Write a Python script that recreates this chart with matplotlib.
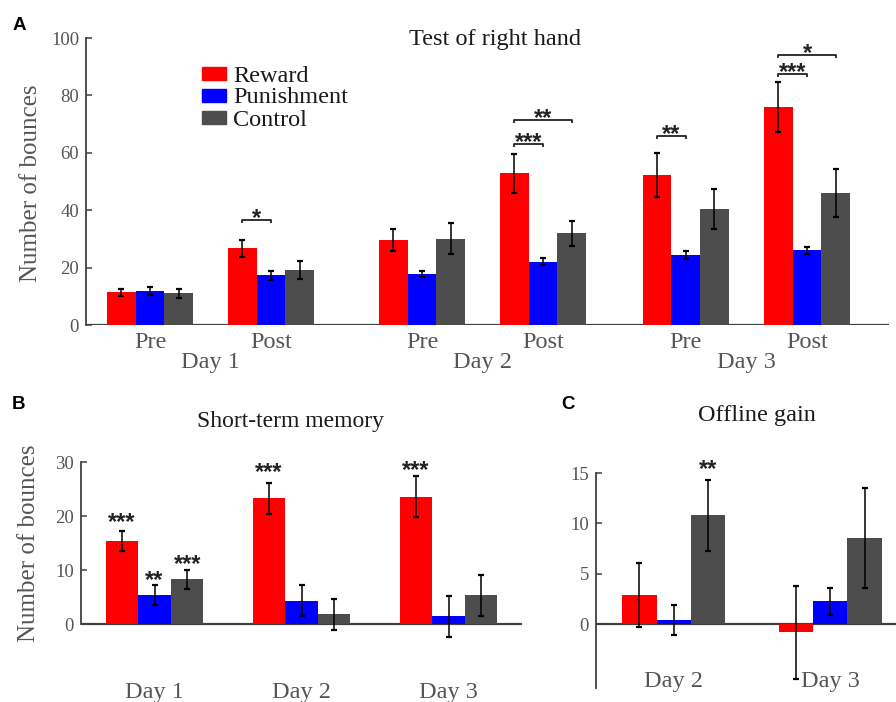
import matplotlib
matplotlib.use("Agg")
import matplotlib.pyplot as plt
from matplotlib.patches import Rectangle
from matplotlib.transforms import blended_transform_factory as blend
import numpy as np

# ---------------- data ----------------
series_names = ['Reward', 'Punishment', 'Control']

# Panel A: Test of right hand
sessions_A = ['Pre', 'Post', 'Pre', 'Post', 'Pre', 'Post']
days_A = ['Day 1', 'Day 2', 'Day 3']
reward_A = [11.4, 26.7, 29.6, 52.8, 52.3, 75.8]
reward_A_err = [1.3, 2.9, 3.9, 6.8, 7.6, 8.7]
punish_A = [11.8, 17.3, 17.8, 22.1, 24.3, 26.0]
punish_A_err = [1.3, 1.6, 1.1, 1.35, 1.4, 1.3]
control_A = [11.0, 19.3, 30.1, 31.9, 40.5, 46.1]
control_A_err = [1.6, 3.1, 5.3, 4.2, 7.0, 8.4]
# significance brackets: (session index, from series, to series, bracket height, label)
sig_A = [(1, 0, 1, 36.6, '*'), (3, 0, 1, 63.1, '***'), (3, 0, 2, 71.5, '**'),
         (4, 0, 1, 65.7, '**'), (5, 0, 1, 87.5, '***'), (5, 0, 2, 94.2, '*')]

# Panel B: Short-term memory
days_B = ['Day 1', 'Day 2', 'Day 3']
reward_B = [15.4, 23.3, 23.6]
reward_B_err = [1.85, 2.8, 3.8]
punish_B = [5.4, 4.4, 1.5]
punish_B_err = [1.9, 2.8, 3.8]
control_B = [8.3, 1.85, 5.4]
control_B_err = [1.8, 2.9, 3.8]
sig_B = [(0, 0, 19.75, '***'), (0, 1, 9.1, '**'), (0, 2, 12.0, '***'),
         (1, 0, 29.1, '***'), (2, 0, 29.5, '***')]

# Panel C: Offline gain
days_C = ['Day 2', 'Day 3']
reward_C = [2.9, -0.8]
reward_C_err = [3.2, 4.6]
punish_C = [0.43, 2.28]
punish_C_err = [1.45, 1.3]
control_C = [10.8, 8.55]
control_C_err = [3.5, 4.95]
sig_C = [(0, 2, 15.84, '**')]

# ---------------- style ----------------
colors = ['#FF0000', '#0000FF', '#4D4D4D']
SPINE = '#404040'
GRAY_TXT = '#555555'
SERIF = ['Liberation Serif', 'DejaVu Serif']
SANS = ['Liberation Sans', 'DejaVu Sans']
W, H = 896, 702

fig = plt.figure(figsize=(W / 100, H / 100), dpi=100)


def fy(py):
    return 1 - py / H


def fx(px):
    return px / W


def style_axis(ax, yticks):
    for s in ['top', 'right', 'bottom']:
        ax.spines[s].set_visible(False)
    ax.spines['left'].set_color(SPINE)
    ax.spines['left'].set_linewidth(1.3)
    ax.set_yticks(yticks)
    ax.tick_params(axis='y', direction='in', length=4, width=1.1, color=SPINE,
                   labelsize=13.5, labelcolor=GRAY_TXT, pad=5)
    for lab in ax.get_yticklabels():
        lab.set_family(SERIF)
    ax.set_xticks([])
    ax.axhline(0, color=SPINE, lw=1.6, zorder=1)


def bars(ax, pos, width, vals, errs):
    for i, (v, e) in enumerate(zip(vals, errs)):
        xs = np.asarray(pos) + (i - 1) * width
        ax.bar(xs, v, width=width, color=colors[i], zorder=2)
        ax.errorbar(xs, v, yerr=e, fmt='none', ecolor='black', elinewidth=1.1,
                    capsize=2.2, capthick=1.6, zorder=3)


def star(ax, x, y, s, fs=17):
    ax.annotate(s, xy=(x, y), xytext=(0, -0.5 * fs), textcoords='offset points',
                ha='center', va='baseline', fontsize=fs, family=SANS, fontweight='bold',
                color='#222222', annotation_clip=False)


def label_text(ax, x, py, s, fs=17.5, color=GRAY_TXT):
    fig.text(x, fy(py), s, transform=blend(ax.transData, fig.transFigure),
             ha='center', va='baseline', fontsize=fs, family=SERIF, color=color)


# ---------------- Panel A ----------------
axA = fig.add_axes([fx(86), fy(325), fx(889 - 86), (325 - 38) / H])
posA = [0, 1, 2.248, 3.248, 4.426, 5.43]
wA = 0.237
vals_A = [reward_A, punish_A, control_A]
bars(axA, posA, wA, vals_A, [reward_A_err, punish_A_err, control_A_err])
axA.set_xlim(-0.53, 6.107)
axA.set_ylim(0, 100)
style_axis(axA, [0, 20, 40, 60, 80, 100])
for p, s in zip(posA, sessions_A):
    label_text(axA, p, 347.7, s)
for d, (a, b) in zip(days_A, [(0, 1), (2, 3), (4, 5)]):
    label_text(axA, (posA[a] + posA[b]) / 2, 368.3, d)
for g, s0, s1, yb, lab in sig_A:
    x0 = posA[g] + (s0 - 1) * wA
    x1 = posA[g] + (s1 - 1) * wA
    axA.plot([x0, x0, x1, x1], [yb - 1.0, yb, yb, yb - 1.0], color='#222222', lw=1.3,
             zorder=4, solid_capstyle='butt')
    star(axA, (x0 + x1) / 2, yb + 2.4, lab)
axA.set_ylabel('Number of bounces', fontsize=18, family=SERIF, color=GRAY_TXT)
axA.yaxis.set_label_coords(fx(42), 49.5, transform=blend(fig.transFigure, axA.transData))
fig.text(fx(495), fy(45), 'Test of right hand', ha='center', va='baseline',
         fontsize=17.5, family=SERIF, color='#1A1A1A')

# manual legend
leg_rows = [(66.7, 81.7), (88.8, 103.3), (111.5, 125.5)]
for (ptop, base), name, c in zip(leg_rows, series_names, colors):
    fig.patches.append(Rectangle((fx(202), fy(ptop + 12.8)), fx(24), 12.8 / H,
                                 transform=fig.transFigure, color=c, figure=fig))
    fig.text(fx(233), fy(base), name, ha='left', va='baseline', fontsize=17.5,
             family=SERIF, color='#1A1A1A')

# ---------------- Panel B ----------------
axB = fig.add_axes([fx(81), fy(678.3), fx(522 - 81), 216 / H])
posB = [1, 2, 3]
wB = 0.222
vals_B = [reward_B, punish_B, control_B]
bars(axB, posB, wB, vals_B, [reward_B_err, punish_B_err, control_B_err])
axB.set_xlim(0.5, 3.5)
axB.set_ylim(-10, 30)
style_axis(axB, [0, 10, 20, 30])
axB.spines['left'].set_bounds(0, 30)
for p, d in zip(posB, days_B):
    label_text(axB, p, 697.7, d)
for g, s, y, lab in sig_B:
    star(axB, posB[g] + (s - 1) * wB, y, lab)
axB.set_ylabel('Number of bounces', fontsize=18, family=SERIF, color=GRAY_TXT)
axB.yaxis.set_label_coords(fx(40), 15, transform=blend(fig.transFigure, axB.transData))
fig.text(fx(290), fy(426.7), 'Short-term memory', ha='center', va='baseline',
         fontsize=17, family=SERIF, color='#1A1A1A')

# ---------------- Panel C ----------------
axC = fig.add_axes([fx(596), fy(688), fx(300), 215 / H])
posC = [1, 2]
wC = 0.22
vals_C = [reward_C, punish_C, control_C]
bars(axC, posC, wC, vals_C, [reward_C_err, punish_C_err, control_C_err])
axC.set_xlim(0.503, 2.42)
axC.set_ylim(-6.3, 15)
style_axis(axC, [0, 5, 10, 15])
for p, d in zip(posC, days_C):
    label_text(axC, p, 686.7, d)
for g, s, y, lab in sig_C:
    star(axC, posC[g] + (s - 1) * wC, y, lab)
fig.text(fx(757), fy(421), 'Offline gain', ha='center', va='baseline',
         fontsize=17.5, family=SERIF, color='#1A1A1A')

# panel letters
for s, x, y in [('A', 13, 30), ('B', 12, 409), ('C', 561, 409)]:
    fig.text(fx(x), fy(y), s, ha='left', va='baseline', fontsize=13.5,
             family=SANS, fontweight='bold', color='black')

fig.savefig('out.png', dpi=100)
